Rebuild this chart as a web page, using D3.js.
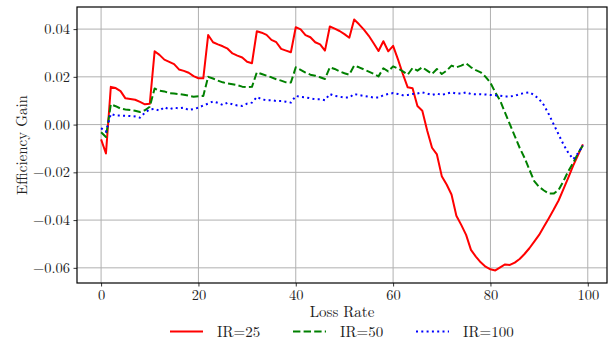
<!DOCTYPE html>
<html>
<head>
<meta charset="utf-8">
<script src="https://cdn.jsdelivr.net/npm/d3@7"></script>
<style>
  body { margin: 0; background: #fff; }
  svg text { font-family: "Latin Modern Roman", "Liberation Serif", "DejaVu Serif", serif; fill: #222; }
</style>
</head>
<body>
<div id="chart-container"></div>
<script>
// loss rate 0..99, one value per integer rate
const ir25 = [
  -0.0062, -0.0121, 0.0158, 0.0153, 0.0140, 0.0110, 0.0107, 0.0104, 0.0095, 0.0085,
  0.0087, 0.0307, 0.0292, 0.0272, 0.0263, 0.0253, 0.0231, 0.0225, 0.0217, 0.0203,
  0.0194, 0.0194, 0.0375, 0.0345, 0.0336, 0.0328, 0.0318, 0.0298, 0.0289, 0.0281,
  0.0263, 0.0257, 0.0391, 0.0385, 0.0376, 0.0355, 0.0345, 0.0317, 0.0310, 0.0303,
  0.0408, 0.0399, 0.0375, 0.0366, 0.0345, 0.0336, 0.0310, 0.0411, 0.0402, 0.0392,
  0.0379, 0.0364, 0.0440, 0.0420, 0.0398, 0.0372, 0.0341, 0.0308, 0.0349, 0.0307,
  0.0330, 0.0273, 0.0212, 0.0156, 0.0152, 0.0078, 0.0058, -0.0025, -0.0097, -0.0125,
  -0.0216, -0.0251, -0.0293, -0.0382, -0.0420, -0.0462, -0.0525, -0.0553, -0.0577, -0.0595,
  -0.0606, -0.0611, -0.0598, -0.0586, -0.0588, -0.0578, -0.0563, -0.0542, -0.0518, -0.0490,
  -0.0462, -0.0427, -0.0392, -0.0356, -0.0318, -0.0270, -0.0222, -0.0172, -0.0128, -0.0083
];
const ir50 = [
  -0.0032, -0.0052, 0.0085, 0.0077, 0.0067, 0.0063, 0.0061, 0.0058, 0.0053, 0.0060,
  0.0075, 0.0151, 0.0142, 0.0139, 0.0132, 0.0130, 0.0128, 0.0125, 0.0121, 0.0117,
  0.0119, 0.0120, 0.0200, 0.0193, 0.0184, 0.0177, 0.0172, 0.0169, 0.0165, 0.0159,
  0.0157, 0.0158, 0.0219, 0.0212, 0.0205, 0.0198, 0.0190, 0.0184, 0.0177, 0.0176,
  0.0240, 0.0229, 0.0218, 0.0209, 0.0205, 0.0198, 0.0191, 0.0240, 0.0233, 0.0223,
  0.0215, 0.0209, 0.0247, 0.0240, 0.0231, 0.0222, 0.0213, 0.0202, 0.0236, 0.0223,
  0.0244, 0.0235, 0.0223, 0.0209, 0.0237, 0.0226, 0.0240, 0.0226, 0.0212, 0.0233,
  0.0212, 0.0226, 0.0247, 0.0240, 0.0247, 0.0257, 0.0240, 0.0228, 0.0219, 0.0200,
  0.0175, 0.0135, 0.0100, 0.0050, 0.0001, -0.0048, -0.0097, -0.0139, -0.0188, -0.0237,
  -0.0261, -0.0276, -0.0289, -0.0289, -0.0274, -0.0237, -0.0195, -0.0160, -0.0120, -0.0087
];
const ir100 = [
  -0.0015, -0.0030, 0.0045, 0.0038, 0.0038, 0.0037, 0.0036, 0.0034, 0.0029, 0.0050,
  0.0064, 0.0066, 0.0058, 0.0073, 0.0064, 0.0071, 0.0068, 0.0071, 0.0061, 0.0065,
  0.0071, 0.0080, 0.0088, 0.0097, 0.0091, 0.0082, 0.0092, 0.0085, 0.0080, 0.0078,
  0.0088, 0.0092, 0.0116, 0.0106, 0.0102, 0.0102, 0.0099, 0.0099, 0.0096, 0.0092,
  0.0120, 0.0116, 0.0114, 0.0110, 0.0106, 0.0106, 0.0102, 0.0128, 0.0120, 0.0117,
  0.0113, 0.0113, 0.0128, 0.0124, 0.0120, 0.0117, 0.0113, 0.0113, 0.0123, 0.0128,
  0.0132, 0.0128, 0.0123, 0.0124, 0.0128, 0.0130, 0.0135, 0.0130, 0.0124, 0.0130,
  0.0124, 0.0130, 0.0135, 0.0130, 0.0130, 0.0135, 0.0128, 0.0127, 0.0127, 0.0126,
  0.0124, 0.0123, 0.0121, 0.0118, 0.0118, 0.0120, 0.0128, 0.0132, 0.0135, 0.0123,
  0.0107, 0.0081, 0.0043, 0.0001, -0.0041, -0.0083, -0.0118, -0.0145, -0.0120, -0.0087
];

const seriesNames = ['IR=25', 'IR=50', 'IR=100'];
const xTicks = [0, 20, 40, 60, 80, 100];
const yTicks = [-0.06, -0.04, -0.02, 0.00, 0.02, 0.04];

const series = [
  {name: seriesNames[0], values: ir25, color: 'red', dash: null},
  {name: seriesNames[1], values: ir50, color: 'green', dash: '7.4,3.2'},
  {name: seriesNames[2], values: ir100, color: 'blue', dash: '2,3.3'}
];

const svgWidth = 616;
const svgHeight = 343;
const margin = {top: 7, left: 77, bottom: 60, right: 9};
const w = svgWidth - margin.left - margin.right;
const h = svgHeight - margin.top - margin.bottom;

const svg = d3.select('#chart-container')
  .append('svg')
  .attr('width', svgWidth)
  .attr('height', svgHeight);

const chart = svg.append('g')
  .attr('transform', 'translate(' + margin.left + ',' + margin.top + ')');

// matplotlib style 5% padding around data
const xMin = 0, xMax = ir25.length - 1;
const xPad = (xMax - xMin) * 0.05;
const x = d3.scaleLinear().domain([xMin - xPad, xMax + xPad]).range([0, w]);

const all = ir25.concat(ir50, ir100);
const yMin = d3.min(all), yMax = d3.max(all);
const yPad = (yMax - yMin) * 0.05;
const y = d3.scaleLinear().domain([yMin - yPad, yMax + yPad]).range([h, 0]);

// grid
chart.append('g')
  .selectAll('line.vg')
  .data(xTicks)
  .enter().append('line')
  .attr('x1', d => x(d)).attr('x2', d => x(d))
  .attr('y1', 0).attr('y2', h)
  .attr('stroke', '#b0b0b0').attr('stroke-width', 1);

chart.append('g')
  .selectAll('line.hg')
  .data(yTicks)
  .enter().append('line')
  .attr('x1', 0).attr('x2', w)
  .attr('y1', d => y(d)).attr('y2', d => y(d))
  .attr('stroke', '#b0b0b0').attr('stroke-width', 1);

// lines
const line = d3.line()
  .x((d, i) => x(i))
  .y(d => y(d));

series.forEach(function(s) {
  chart.append('path')
    .datum(s.values)
    .attr('fill', 'none')
    .attr('stroke', s.color)
    .attr('stroke-width', 2)
    .attr('stroke-linejoin', 'round')
    .attr('stroke-dasharray', s.dash)
    .attr('d', line);
});

// axes
const xAxis = chart.append('g')
  .attr('transform', 'translate(0,' + h + ')')
  .call(d3.axisBottom(x).tickValues(xTicks).tickSize(3.5).tickPadding(3.5).tickFormat(d3.format('d')));

const yAxis = chart.append('g')
  .call(d3.axisLeft(y).tickValues(yTicks).tickSize(3.5).tickPadding(3.5).tickFormat(d3.format('.2f')));

[xAxis, yAxis].forEach(function(a) {
  a.select('.domain').remove();
  a.selectAll('.tick line').attr('stroke', '#000').attr('stroke-width', 0.8);
  a.selectAll('.tick text')
    .style('font-size', '14.5px')
    .style('font-family', '"Latin Modern Roman", "Liberation Serif", serif')
    .attr('fill', '#222');
});

// frame
chart.append('rect')
  .attr('x', 0).attr('y', 0)
  .attr('width', w).attr('height', h)
  .attr('fill', 'none')
  .attr('stroke', '#000')
  .attr('stroke-width', 1.2);

// axis labels
svg.append('text')
  .attr('x', margin.left + w / 2)
  .attr('y', 317)
  .attr('text-anchor', 'middle')
  .style('font-size', '15px')
  .text('Loss Rate');

svg.append('text')
  .attr('transform', 'translate(27,' + (margin.top + h / 2) + ') rotate(-90)')
  .attr('text-anchor', 'middle')
  .style('font-size', '15px')
  .text('Efficiency Gain');

// legend
const legendX = [170, 293, 416];
const legend = svg.append('g');
series.forEach(function(s, i) {
  const g = legend.append('g').attr('transform', 'translate(' + legendX[i] + ',331.5)');
  g.append('line')
    .attr('x1', 0).attr('x2', 33)
    .attr('y1', 0).attr('y2', 0)
    .attr('stroke', s.color)
    .attr('stroke-width', 2)
    .attr('stroke-dasharray', s.dash);
  g.append('text')
    .attr('x', 47)
    .attr('y', 5)
    .style('font-size', '15px')
    .text(s.name);
});
</script>
</body>
</html>
